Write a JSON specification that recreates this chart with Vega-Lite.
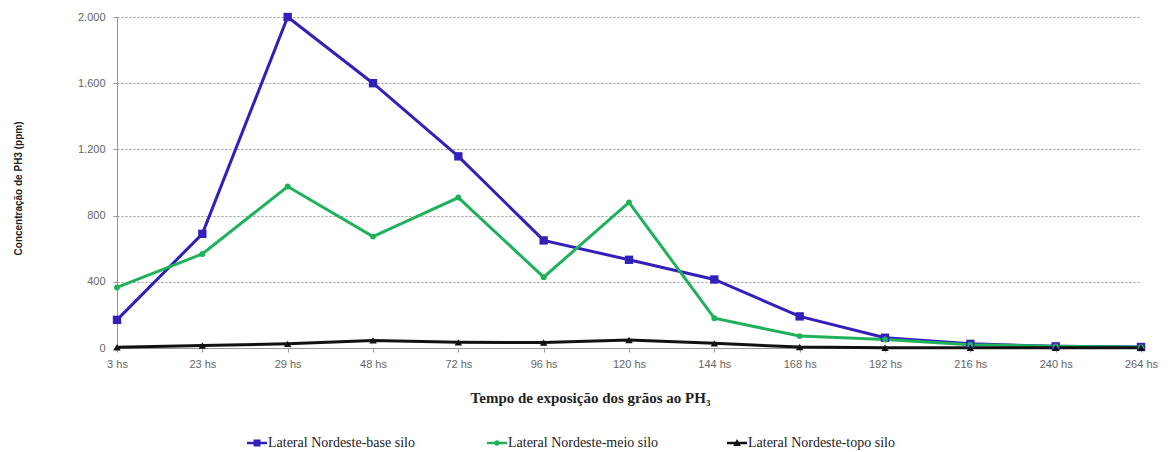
{
  "$schema": "https://vega.github.io/schema/vega-lite/v6.json",
  "width": 1024,
  "height": 331,
  "autosize": {"type": "none"},
  "padding": {"left": 117, "top": 17, "right": 27, "bottom": 104},
  "background": "white",
  "config": {"view": {"stroke": null}, "font": "Liberation Serif", "legend": {"labelFont": "Liberation Serif", "labelFontSize": 14, "labelColor": "#222"}},
  "data": {"values": [
    {"t": "3 hs", "s": "Lateral Nordeste-base silo", "v": 170},
    {"t": "23 hs", "s": "Lateral Nordeste-base silo", "v": 690},
    {"t": "29 hs", "s": "Lateral Nordeste-base silo", "v": 2000},
    {"t": "48 hs", "s": "Lateral Nordeste-base silo", "v": 1600},
    {"t": "72 hs", "s": "Lateral Nordeste-base silo", "v": 1158},
    {"t": "96 hs", "s": "Lateral Nordeste-base silo", "v": 650},
    {"t": "120 hs", "s": "Lateral Nordeste-base silo", "v": 533},
    {"t": "144 hs", "s": "Lateral Nordeste-base silo", "v": 414},
    {"t": "168 hs", "s": "Lateral Nordeste-base silo", "v": 191},
    {"t": "192 hs", "s": "Lateral Nordeste-base silo", "v": 62},
    {"t": "216 hs", "s": "Lateral Nordeste-base silo", "v": 25},
    {"t": "240 hs", "s": "Lateral Nordeste-base silo", "v": 10},
    {"t": "264 hs", "s": "Lateral Nordeste-base silo", "v": 6},
    {"t": "3 hs", "s": "Lateral Nordeste-meio silo", "v": 366},
    {"t": "23 hs", "s": "Lateral Nordeste-meio silo", "v": 568},
    {"t": "29 hs", "s": "Lateral Nordeste-meio silo", "v": 976},
    {"t": "48 hs", "s": "Lateral Nordeste-meio silo", "v": 673},
    {"t": "72 hs", "s": "Lateral Nordeste-meio silo", "v": 909},
    {"t": "96 hs", "s": "Lateral Nordeste-meio silo", "v": 428},
    {"t": "120 hs", "s": "Lateral Nordeste-meio silo", "v": 880},
    {"t": "144 hs", "s": "Lateral Nordeste-meio silo", "v": 180},
    {"t": "168 hs", "s": "Lateral Nordeste-meio silo", "v": 72},
    {"t": "192 hs", "s": "Lateral Nordeste-meio silo", "v": 51},
    {"t": "216 hs", "s": "Lateral Nordeste-meio silo", "v": 20},
    {"t": "240 hs", "s": "Lateral Nordeste-meio silo", "v": 10},
    {"t": "264 hs", "s": "Lateral Nordeste-meio silo", "v": 5},
    {"t": "3 hs", "s": "Lateral Nordeste-topo silo", "v": 5},
    {"t": "23 hs", "s": "Lateral Nordeste-topo silo", "v": 15},
    {"t": "29 hs", "s": "Lateral Nordeste-topo silo", "v": 25},
    {"t": "48 hs", "s": "Lateral Nordeste-topo silo", "v": 46},
    {"t": "72 hs", "s": "Lateral Nordeste-topo silo", "v": 34},
    {"t": "96 hs", "s": "Lateral Nordeste-topo silo", "v": 33},
    {"t": "120 hs", "s": "Lateral Nordeste-topo silo", "v": 48},
    {"t": "144 hs", "s": "Lateral Nordeste-topo silo", "v": 28},
    {"t": "168 hs", "s": "Lateral Nordeste-topo silo", "v": 6},
    {"t": "192 hs", "s": "Lateral Nordeste-topo silo", "v": 2},
    {"t": "216 hs", "s": "Lateral Nordeste-topo silo", "v": 1},
    {"t": "240 hs", "s": "Lateral Nordeste-topo silo", "v": 1},
    {"t": "264 hs", "s": "Lateral Nordeste-topo silo", "v": 1}
  ]},
  "encoding": {
    "x": {
      "field": "t", "type": "ordinal",
      "sort": ["3 hs", "23 hs", "29 hs", "48 hs", "72 hs", "96 hs", "120 hs", "144 hs", "168 hs", "192 hs", "216 hs", "240 hs", "264 hs"],
      "scale": {"type": "point", "padding": 0},
      "axis": {
        "title": "Tempo de exposição dos grãos ao PH₃",
        "titleFont": "Liberation Serif", "titleFontSize": 15, "titleFontWeight": "bold", "titleColor": "#222",
        "titleX": 473, "titleY": 54, "titleBaseline": "alphabetic", "titleAnchor": null,
        "labelAngle": 0, "labelFont": "Liberation Sans", "labelFontSize": 11, "labelColor": "#666",
        "labelPadding": 6,
        "domainColor": "#999", "tickColor": "#999", "tickSize": 4, "grid": false
      }
    },
    "y": {
      "field": "v", "type": "quantitative",
      "scale": {"domain": [0, 2000], "nice": false},
      "axis": {
        "title": "Concentração de PH3 (ppm)",
        "titleFont": "Liberation Sans", "titleFontSize": 10, "titleFontWeight": "bold", "titleColor": "#222",
        "titleX": -99, "titleY": 171, "titleAngle": -90, "titleBaseline": "middle", "titleAlign": "center",
        "values": [0, 400, 800, 1200, 1600, 2000],
        "labelExpr": "replace(format(datum.value, ','), ',', '.')",
        "labelFont": "Liberation Sans", "labelFontSize": 11, "labelColor": "#666", "labelPadding": 8,
        "domainColor": "#999", "tickColor": "#999", "tickSize": 4,
        "grid": true, "gridColor": "#999", "gridDash": [2, 2], "gridWidth": 1
      }
    },
    "color": {
      "field": "s", "type": "nominal",
      "scale": {"domain": ["Lateral Nordeste-base silo", "Lateral Nordeste-meio silo", "Lateral Nordeste-topo silo"], "range": ["#3220bc", "#1fb25a", "#111111"]},
      "legend": {
        "title": null, "orient": "none", "direction": "horizontal",
        "legendX": 130, "legendY": 416,
        "symbolOpacity": 1, "symbolSize": 400, "symbolStrokeWidth": 0,
        "labelFont": "Liberation Serif", "labelFontSize": 14, "labelColor": "#222",
        "labelOffset": 1, "columnPadding": 68, "gridAlign": "all"
      }
    }
  },
  "layer": [
    {
      "mark": {"type": "line", "strokeWidth": 3}
    },
    {
      "transform": [{"filter": "datum.s == 'Lateral Nordeste-base silo'"}],
      "mark": {"type": "point", "filled": true, "opacity": 1, "shape": "square", "size": 70}
    },
    {
      "transform": [{"filter": "datum.s == 'Lateral Nordeste-meio silo'"}],
      "mark": {"type": "point", "filled": true, "opacity": 1, "shape": "circle", "size": 35}
    },
    {
      "transform": [{"filter": "datum.s == 'Lateral Nordeste-topo silo'"}],
      "mark": {"type": "point", "filled": true, "opacity": 1, "shape": "triangle-up", "size": 55}
    },
    {
      "mark": {"type": "point", "filled": true, "opacity": 0},
      "encoding": {
        "shape": {
          "field": "s", "type": "nominal",
          "scale": {
            "domain": ["Lateral Nordeste-base silo", "Lateral Nordeste-meio silo", "Lateral Nordeste-topo silo"],
            "range": [
              "M-1,-0.12H1V0.12H-1Z M-0.35,-0.35H0.35V0.35H-0.35Z",
              "M-1,-0.12H1V0.12H-1Z M0.28,0A0.28,0.28 0 1,1 -0.28,0A0.28,0.28 0 1,1 0.28,0Z",
              "M-1,-0.12H1V0.12H-1Z M0,-0.4L0.38,0.3H-0.38Z"
            ]
          },
          "legend": {
            "title": null, "orient": "none", "direction": "horizontal",
            "legendX": 130, "legendY": 416,
            "symbolOpacity": 1, "symbolSize": 400, "symbolStrokeWidth": 0,
            "labelFont": "Liberation Serif", "labelFontSize": 14, "labelColor": "#222",
            "labelOffset": 1, "columnPadding": 68, "gridAlign": "all"
          }
        }
      }
    }
  ]
}
